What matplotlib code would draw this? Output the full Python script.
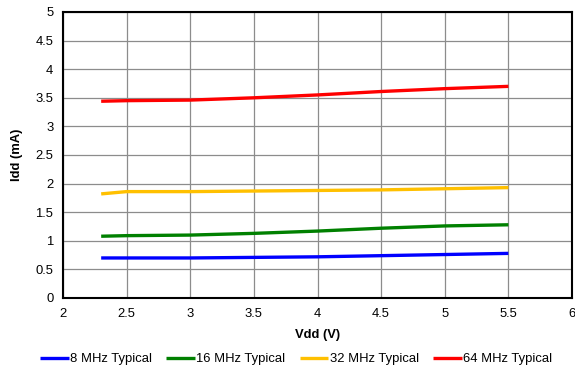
import matplotlib
matplotlib.use("Agg")
from matplotlib import pyplot as plt

plt.rcParams["font.family"] = ["Liberation Sans", "DejaVu Sans"]
plt.rcParams["font.size"] = 9.4

vdd = [2.3, 2.5, 3.0, 3.5, 4.0, 4.5, 5.0, 5.5]
idd_8mhz = [0.70, 0.70, 0.70, 0.71, 0.72, 0.74, 0.76, 0.78]
idd_16mhz = [1.08, 1.09, 1.10, 1.13, 1.17, 1.22, 1.26, 1.28]
idd_32mhz = [1.82, 1.86, 1.86, 1.87, 1.88, 1.89, 1.91, 1.93]
idd_64mhz = [3.44, 3.45, 3.46, 3.50, 3.55, 3.61, 3.66, 3.70]

series = [
    ("8 MHz Typical", idd_8mhz, "#0000ff"),
    ("16 MHz Typical", idd_16mhz, "#008000"),
    ("32 MHz Typical", idd_32mhz, "#ffc000"),
    ("64 MHz Typical", idd_64mhz, "#ff0000"),
]

fig = plt.figure(figsize=(5.75, 3.75), dpi=100)
ax = fig.add_axes([63 / 575, 1 - 298 / 375, (572 - 63) / 575, (298 - 12) / 375])

for label, values, color in series:
    ax.plot(vdd, values, color=color, linewidth=2.4, label=label, solid_capstyle="butt")

ax.set_xlim(2, 6)
ax.set_ylim(0, 5)
ax.set_xticks([2, 2.5, 3, 3.5, 4, 4.5, 5, 5.5, 6])
ax.set_xticklabels(["2", "2.5", "3", "3.5", "4", "4.5", "5", "5.5", "6"])
ax.set_yticks([0, 0.5, 1, 1.5, 2, 2.5, 3, 3.5, 4, 4.5, 5])
ax.set_yticklabels(["0", "0.5", "1", "1.5", "2", "2.5", "3", "3.5", "4", "4.5", "5"])
ax.grid(True, color="#8c8c8c", linewidth=0.9)
ax.set_axisbelow(True)
ax.tick_params(length=0, pad=7)
for spine in ax.spines.values():
    spine.set_color("black")
    spine.set_linewidth(1.5)

ax.set_xlabel("Vdd (V)", fontweight="bold", labelpad=7)
ax.set_ylabel("Idd (mA)", fontweight="bold", labelpad=9)

fig.legend(loc="lower center", bbox_to_anchor=(0.515, -0.005), ncol=4, frameon=False,
           handlelength=2.2, handletextpad=0.1, columnspacing=1.1)

plt.savefig("out.png", dpi=100)
plt.close()
